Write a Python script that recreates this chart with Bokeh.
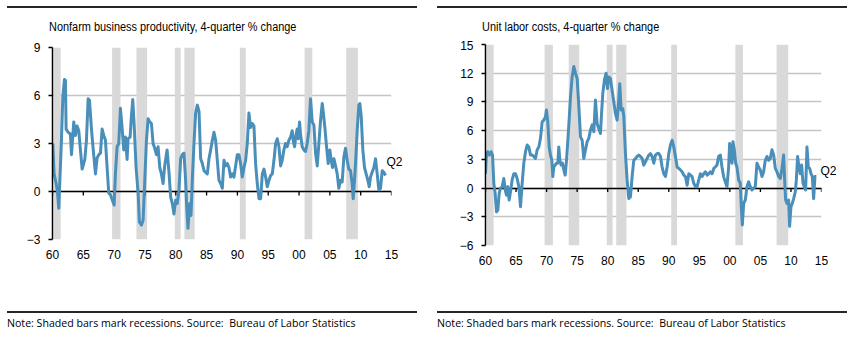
from bokeh.plotting import figure
from bokeh.layouts import row, column
from bokeh.models import Div, FixedTicker, LinearAxis
from bokeh.embed import file_html
from bokeh.resources import INLINE

# ---------------- data ----------------
tick_years = [1960, 1965, 1970, 1975, 1980, 1985, 1990, 1995, 2000, 2005, 2010, 2015]
tick_labels = ["60", "65", "70", "75", "80", "85", "90", "95", "00", "05", "10", "15"]

rec_start = [1960.2, 1969.67, 1973.62, 1979.85, 1981.4, 1990.4, 2000.9, 2007.65]
rec_end = [1961.33, 1971.03, 1975.35, 1980.8, 1983.07, 1991.35, 2002.15, 2009.55]

prod_t = [1960.05, 1960.26, 1960.59, 1960.8, 1961.02, 1961.45, 1961.67, 1961.94, 1962.1, 1962.21,
          1962.54, 1962.91, 1963.08, 1963.45, 1963.72, 1963.99, 1964.26, 1964.53, 1964.81, 1965.24,
          1965.51, 1965.78, 1966.0, 1966.32, 1966.59, 1966.97, 1967.24, 1967.51, 1967.78, 1968.05,
          1968.32, 1968.59, 1968.86, 1969.13, 1969.4, 1969.67, 1970.0, 1970.21, 1970.48, 1970.75,
          1971.02, 1971.29, 1971.56, 1971.83, 1972.1, 1972.26, 1972.59, 1972.8, 1973.02, 1973.24,
          1973.56, 1973.89, 1974.1, 1974.43, 1974.7, 1974.97, 1975.24, 1975.51, 1975.78, 1976.05,
          1976.32, 1976.59, 1976.86, 1977.13, 1977.4, 1977.67, 1977.94, 1978.2, 1978.59, 1978.9,
          1979.17, 1979.44, 1979.71, 1979.98, 1980.25, 1980.52, 1980.79, 1981.06, 1981.33, 1981.6,
          1981.77, 1981.98, 1982.25, 1982.47, 1982.68, 1982.95, 1983.22, 1983.5, 1983.77, 1984.04,
          1984.31, 1984.58, 1984.85, 1985.12, 1985.39, 1985.66, 1985.93, 1986.2, 1986.47, 1986.74,
          1987.01, 1987.28, 1987.55, 1987.82, 1988.09, 1988.36, 1988.63, 1988.9, 1989.17, 1989.44,
          1989.71, 1989.98, 1990.25, 1990.52, 1990.79, 1991.06, 1991.33, 1991.6, 1991.87, 1992.14,
          1992.41, 1992.68, 1992.95, 1993.22, 1993.5, 1993.77, 1994.04, 1994.31, 1994.58, 1994.85,
          1995.12, 1995.39, 1995.66, 1995.93, 1996.2, 1996.47, 1996.74, 1997.01, 1997.27, 1997.54,
          1997.81, 1998.08, 1998.35, 1998.62, 1998.89, 1999.05, 1999.27, 1999.49, 1999.7, 1999.86,
          2000.08, 2000.24, 2000.51, 2000.78, 2001.05, 2001.32, 2001.59, 2001.86, 2002.14, 2002.41,
          2002.68, 2002.95, 2003.22, 2003.49, 2003.76, 2003.92, 2004.19, 2004.46, 2004.73, 2005.0,
          2005.22, 2005.43, 2005.65, 2005.92, 2006.19, 2006.46, 2006.73, 2007.0, 2007.27, 2007.54,
          2007.81, 2008.08, 2008.35, 2008.62, 2008.78, 2009.0, 2009.22, 2009.43, 2009.7, 2009.86,
          2010.08, 2010.35, 2010.62, 2010.89, 2011.16, 2011.38, 2011.59, 2011.86, 2012.14, 2012.41,
          2012.68, 2012.95, 2013.22, 2013.49, 2013.76, 2014.03]
prod_v = [3.0, 1.1, 0.5, 0.0, -1.05, 3.2, 5.9, 7.0, 6.95, 3.9,
          3.7, 3.6, 2.3, 4.35, 3.5, 4.1, 3.8, 2.6, 1.4, 2.0,
          3.2, 5.8, 5.7, 3.9, 2.7, 1.1, 2.1, 2.3, 2.4, 3.9,
          3.5, 3.2, 1.5, -0.1, -0.2, -0.5, -0.85, 1.1, 2.8, 3.0,
          5.2, 4.0, 2.6, 3.4, 2.0, 3.3, 3.4, 4.7, 5.75, 4.25,
          1.5, -0.1, -1.9, -2.1, -1.8, 0.7, 3.2, 4.55, 4.35, 4.25,
          3.0, 2.7, 2.3, 2.8, 1.5, 1.1, 0.5, 1.6, 2.6, 1.2,
          -0.35, -0.75, -1.4, -0.55, -0.75, 0.1, 2.05, 2.3, 2.4, 0.7,
          -0.95, -2.3, -0.75, -1.5, 0.7, 3.0, 4.9, 5.4, 5.0, 2.05,
          1.75, 1.3, 1.2, 1.1, 2.05, 2.6, 3.2, 3.7, 3.2, 1.95,
          0.7, 0.5, 0.2, 1.95, 1.6, 1.75, 1.5, 0.9, 1.1, 0.9,
          1.6, 2.3, 2.3, 1.75, 0.9, 1.5, 1.95, 3.0, 4.9, 4.0,
          4.25, 4.1, 1.75, 0.5, -0.45, -0.45, 1.1, 1.4, 0.9, 0.3,
          0.7, 1.0, 1.1, 1.95, 3.0, 3.3, 2.8, 1.6, 1.95, 2.6,
          3.0, 2.8, 3.2, 3.4, 3.8, 3.2, 2.8, 3.5, 3.9, 3.3,
          4.35, 3.6, 2.8, 2.6, 2.5, 3.0, 3.8, 5.8, 4.35, 4.15,
          2.4, 1.6, 3.0, 4.45, 5.5, 5.0, 4.0, 2.8, 1.75, 2.6,
          1.95, 1.5, 2.05, 1.6, 1.1, 0.2, 0.7, 0.6, 2.15, 2.7,
          1.95, 1.4, 1.3, 0.5, -0.45, 0.7, 2.15, 3.8, 5.4, 5.5,
          4.75, 2.6, 1.5, 1.1, 0.7, 0.3, 0.9, 1.2, 1.5, 2.05,
          1.1, 0.1, 0.2, 1.3, 1.2, 1.0]

ulc_t = [1960.0, 1960.16, 1960.38, 1960.65, 1960.93, 1961.15, 1961.36, 1961.58, 1961.8, 1962.02,
         1962.24, 1962.45, 1962.73, 1963.0, 1963.22, 1963.44, 1963.66, 1963.87, 1964.09, 1964.36,
         1964.64, 1964.91, 1965.18, 1965.46, 1965.73, 1966.0, 1966.27, 1966.55, 1966.82, 1967.09,
         1967.36, 1967.64, 1967.91, 1968.18, 1968.46, 1968.73, 1969.0, 1969.27, 1969.55, 1969.82,
         1969.98, 1970.2, 1970.42, 1970.64, 1970.86, 1971.02, 1971.18, 1971.4, 1971.62, 1971.84,
         1972.0, 1972.17, 1972.38, 1972.6, 1972.82, 1973.04, 1973.26, 1973.48, 1973.69, 1973.91,
         1974.18, 1974.46, 1974.73, 1975.0, 1975.28, 1975.55, 1975.82, 1976.09, 1976.37, 1976.64,
         1976.91, 1977.18, 1977.46, 1977.73, 1978.0, 1978.27, 1978.55, 1978.82, 1978.98, 1979.2,
         1979.47, 1979.75, 1979.96, 1980.18, 1980.45, 1980.73, 1981.0, 1981.27, 1981.55, 1981.82,
         1981.98, 1982.2, 1982.47, 1982.64, 1982.91, 1983.18, 1983.46, 1983.73, 1984.0, 1984.27,
         1984.55, 1984.82, 1985.09, 1985.37, 1985.64, 1985.91, 1986.18, 1986.46, 1986.73, 1987.0,
         1987.27, 1987.55, 1987.82, 1988.09, 1988.37, 1988.64, 1988.91, 1989.18, 1989.46, 1989.73,
         1990.0, 1990.27, 1990.55, 1990.82, 1991.09, 1991.37, 1991.64, 1991.91, 1992.18, 1992.46,
         1992.73, 1993.0, 1993.28, 1993.55, 1993.82, 1994.09, 1994.37, 1994.64, 1994.91, 1995.18,
         1995.46, 1995.73, 1996.0, 1996.28, 1996.55, 1996.82, 1997.09, 1997.37, 1997.62, 1997.89,
         1998.16, 1998.44, 1998.71, 1998.98, 1999.25, 1999.53, 1999.8, 1999.96, 2000.18, 2000.35,
         2000.51, 2000.73, 2000.95, 2001.16, 2001.44, 2001.71, 2001.87, 2002.04, 2002.26, 2002.53,
         2002.8, 2003.07, 2003.35, 2003.62, 2003.89, 2004.16, 2004.44, 2004.71, 2004.98, 2005.26,
         2005.53, 2005.8, 2006.07, 2006.35, 2006.62, 2006.89, 2007.17, 2007.44, 2007.71, 2007.98,
         2008.26, 2008.53, 2008.8, 2008.97, 2009.13, 2009.35, 2009.62, 2009.78, 2010.0, 2010.22,
         2010.44, 2010.71, 2010.88, 2011.09, 2011.31, 2011.53, 2011.75, 2011.97, 2012.18, 2012.4,
         2012.62, 2012.84, 2013.06, 2013.28, 2013.5, 2013.71, 2013.93, 2014.15]
ulc_v = [1.5, 3.6, 3.8, 3.45, 3.8, 3.45, 0.5, -0.55, -2.5, -2.3,
         -0.55, 0.0, 0.15, 1.0, -0.2, -0.75, 0.15, -1.25, -0.4, 0.85,
         1.5, 1.5, 1.0, 0.15, -1.95, 0.5, 2.6, 3.8, 4.5, 4.3,
         3.45, 3.45, 3.3, 3.1, 4.0, 4.3, 5.2, 6.9, 7.1, 7.45,
         8.15, 6.9, 4.3, 3.45, 2.9, 1.2, 2.2, 2.4, 2.6, 2.6,
         4.3, 2.9, 2.4, 2.6, 1.9, 1.35, 2.9, 5.0, 7.1, 9.5,
         11.6, 12.7, 12.0, 11.45, 8.5, 5.35, 5.0, 3.1, 4.0, 4.85,
         5.2, 6.05, 6.6, 5.9, 9.2, 6.75, 6.2, 5.7, 7.6, 9.9,
         11.3, 12.0, 10.4, 11.6, 11.45, 10.2, 9.0, 7.8, 7.1, 9.35,
         10.9, 8.15, 8.3, 7.45, 3.6, 0.85, -1.1, -0.9, 1.2, 2.9,
         3.1, 3.3, 3.45, 3.3, 3.1, 2.4, 2.75, 3.1, 3.45, 3.6,
         3.3, 2.6, 3.45, 3.6, 3.6, 3.3, 2.2, 1.5, 1.2, 2.2,
         3.6, 4.5, 5.0, 4.3, 3.3, 2.2, 2.05, 1.9, 1.7, 1.35,
         1.2, 0.3, 1.5, 1.35, 1.2, 0.5, 0.15, 0.15, 0.85, 1.5,
         1.2, 1.5, 1.7, 1.35, 1.5, 1.7, 1.5, 2.05, 2.2, 2.4,
         3.3, 3.45, 2.2, 1.2, 0.65, 0.15, 2.2, 4.65, 4.0, 2.6,
         4.85, 4.0, 2.6, 2.2, 0.85, 0.5, -1.95, -3.85, -1.6, -1.25,
         0.15, 0.65, 0.15, -0.2, 0.0, 0.15, 2.6, 2.2, 1.9, 1.2,
         1.7, 2.9, 3.3, 2.9, 3.1, 4.0, 3.45, 2.05, 1.7, 1.2,
         1.0, 2.05, 3.45, 0.85, -1.25, -1.6, -1.25, -4.0, -1.95, -1.6,
         -1.1, -0.4, 0.85, 3.3, 2.2, 1.5, 2.4, 0.5, 0.15, -0.2,
         4.3, 2.2, 2.05, 1.5, 1.2, -1.1, 1.2, 1.2]

prod_title = "Nonfarm business productivity, 4-quarter % change"
ulc_title = "Unit labor costs, 4-quarter % change"
note_text = "Note: Shaded bars mark recessions. Source:&nbsp; Bureau of Labor Statistics"
end_label = "Q2"

prod_yticks = [-3, 0, 3, 6, 9]
ulc_yticks = [-6, -3, 0, 3, 6, 9, 12, 15]
prod_label_y = 1.85
ulc_label_y = 1.75

# ---------------- style ----------------
NARROW = "'Liberation Sans Narrow', 'Arial Narrow', 'Liberation Sans', Arial, sans-serif"
LINE_COLOR = "#4a8fba"
BAR_COLOR = "#d9d9d9"
GRID_COLOR = "#c4c4c4"


def make_panel(title, t, v, yticks, label_y, label_standoff, col_w, b_left, b_right, b_top,
               b_bottom, rule_left, title_left):
    fig_h = 250
    frame_h = fig_h - b_top - b_bottom
    ymin, ymax = yticks[0], yticks[-1]
    p = figure(width=col_w, height=fig_h, x_range=(1960, 2015), y_range=(ymin, ymax),
               output_backend="svg", toolbar_location=None, title=None,
               min_border_left=b_left, min_border_right=b_right,
               min_border_top=b_top, min_border_bottom=b_bottom)
    p.outline_line_color = None
    p.background_fill_color = "white"
    p.border_fill_color = "white"
    p.xgrid.visible = False
    p.ygrid.ticker = FixedTicker(ticks=yticks)
    p.ygrid.grid_line_color = GRID_COLOR
    p.ygrid.grid_line_width = 1.5

    ya = p.left[0]
    xa = p.below[0]

    # recession bars
    p.quad(left=rec_start, right=rec_end, bottom=ymin, top=ymax,
           fill_color=BAR_COLOR, line_color=None)
    # zero line with downward ticks
    p.hspan(y=[0], line_color="black", line_width=1.5)
    tick_len = 4.0 * (ymax - ymin) / frame_h
    p.segment(x0=tick_years, y0=[0] * len(tick_years), x1=tick_years,
              y1=[-tick_len] * len(tick_years), line_color="black", line_width=1.3)
    # series
    p.line(t, v, line_color=LINE_COLOR, line_width=3, line_join="round")

    ya.ticker = FixedTicker(ticks=yticks)
    ya.axis_line_color = "black"
    ya.axis_line_width = 1.5
    ya.major_tick_line_color = "black"
    ya.major_tick_line_width = 1.3
    ya.major_tick_out = 4
    ya.major_tick_in = 0
    ya.minor_tick_line_color = None
    ya.major_label_standoff = 8
    ya.major_label_text_font = NARROW
    ya.major_label_text_font_size = "12px"
    ya.major_label_text_color = "black"

    xa.ticker = FixedTicker(ticks=tick_years)
    xa.major_label_overrides = {y: s for y, s in zip(tick_years, tick_labels)}
    xa.axis_line_color = None
    xa.major_tick_line_color = None
    xa.minor_tick_line_color = None
    xa.major_tick_out = 0
    xa.major_tick_in = 0
    xa.major_label_standoff = 10
    xa.major_label_text_font = NARROW
    xa.major_label_text_font_size = "12px"
    xa.major_label_text_color = "black"

    # end-of-series label on a bare right axis (outside the frame)
    ra = LinearAxis(ticker=FixedTicker(ticks=[label_y]),
                    major_label_overrides={label_y: end_label})
    ra.axis_line_color = None
    ra.major_tick_line_color = None
    ra.minor_tick_line_color = None
    ra.major_tick_out = 0
    ra.major_tick_in = 0
    ra.major_label_standoff = label_standoff
    ra.major_label_text_font = NARROW
    ra.major_label_text_font_size = "12px"
    ra.major_label_text_color = "black"
    p.add_layout(ra, "right")

    top_html = (
        f'<div style="width:410px;height:2px;background:#262626;margin:6px 0 0 {rule_left}px"></div>'
        f'<div style="margin:12px 0 0 {title_left}px;font-family:{NARROW};font-size:12px;'
        f'line-height:14px;color:#000;white-space:nowrap;transform:scaleX(0.91);'
        f'transform-origin:0 0">{title}</div>'
    )
    bottom_html = (
        f'<div style="width:410px;height:2px;background:#262626;margin:21px 0 0 {rule_left}px"></div>'
        f'<div style="margin:4px 0 0 {rule_left}px;font-family:\'Open Sans\', sans-serif;font-size:10.6px;'
        f'line-height:12px;color:#000;white-space:nowrap">{note_text}</div>'
    )
    top = Div(text=top_html, width=col_w, height=40, margin=0)
    bottom = Div(text=bottom_html, width=col_w, height=56, margin=0)
    return column(top, p, bottom, spacing=0)


left = make_panel(prod_title, prod_t, prod_v, prod_yticks, prod_label_y, -5,
                  428, 52, 37, 7, 51, 7, 49)
right = make_panel(ulc_title, ulc_t, ulc_v, ulc_yticks, ulc_label_y, -1,
                   429, 57, 36, 4, 45, 9, 54)

layout = row(left, right, spacing=0)
open("out.html", "w").write(file_html(layout, INLINE))
